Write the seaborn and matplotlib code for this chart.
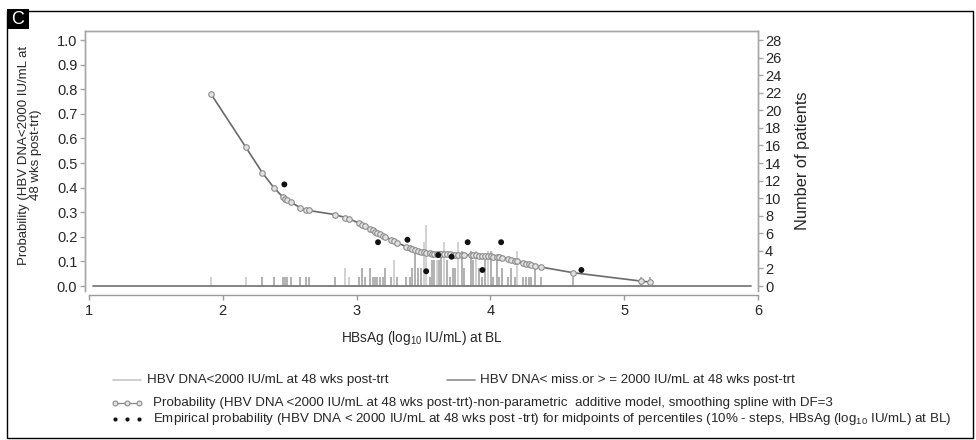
import numpy as np
import pandas as pd
import matplotlib
matplotlib.use("Agg")
import matplotlib.pyplot as plt
from matplotlib.lines import Line2D
from matplotlib.patches import Rectangle
import seaborn as sns

# ---------------- data ----------------
# patient HBsAg values (log10 IU/mL) and number of patients at each value
needle_x = [1.910, 2.172, 2.296, 2.381, 2.448, 2.465, 2.480, 2.513, 2.578, 2.625,
            2.642, 2.842, 2.916, 2.940, 3.015, 3.037, 3.060, 3.102, 3.119, 3.137,
            3.154, 3.172, 3.194, 3.214, 3.259, 3.282, 3.302, 3.371, 3.396, 3.413,
            3.433, 3.460, 3.480, 3.500, 3.520, 3.545, 3.565, 3.582, 3.599, 3.614,
            3.634, 3.654, 3.674, 3.699, 3.719, 3.737, 3.761, 3.784, 3.799, 3.853,
            3.873, 3.893, 3.916, 3.938, 3.963, 3.985, 4.002, 4.022, 4.047, 4.067,
            4.090, 4.134, 4.157, 4.181, 4.201, 4.246, 4.266, 4.286, 4.306, 4.331,
            4.378, 4.619, 5.125, 5.192]
needle_n = [1, 1, 1, 1, 1, 1, 1, 1, 1, 1,
            1, 1, 2, 1, 1, 2, 1, 2, 1, 1,
            1, 1, 1, 2, 1, 3, 1, 1, 1, 2,
            4, 2, 2, 5, 7, 1, 3, 3, 3, 3,
            4, 5, 3, 1, 2, 2, 5, 4, 2, 4,
            3, 4, 2, 1, 3, 4, 4, 1, 3, 1,
            2, 1, 2, 1, 4, 1, 1, 1, 1, 2,
            1, 1, 1, 1]
# 'lo' = HBV DNA<2000 IU/mL, 'hi' = HBV DNA miss. or >=2000 IU/mL
needle_grp = ['lo', 'lo', 'hi', 'hi', 'hi', 'hi', 'hi', 'hi', 'hi', 'hi',
              'hi', 'hi', 'lo', 'lo', 'hi', 'hi', 'hi', 'hi', 'hi', 'hi',
              'hi', 'hi', 'hi', 'hi', 'hi', 'lo', 'hi', 'hi', 'hi', 'hi',
              'hi', 'hi', 'hi', 'lo', 'lo', 'hi', 'hi', 'hi', 'lo', 'hi',
              'hi', 'lo', 'hi', 'hi', 'hi', 'hi', 'lo', 'hi', 'hi', 'hi',
              'hi', 'lo', 'hi', 'hi', 'hi', 'lo', 'hi', 'hi', 'hi', 'hi',
              'hi', 'hi', 'hi', 'hi', 'lo', 'hi', 'hi', 'hi', 'hi', 'hi',
              'hi', 'hi', 'hi', 'hi']

# smoothed probability at each patient value
curve_y = [0.782, 0.564, 0.460, 0.400, 0.362, 0.355, 0.350, 0.340, 0.318, 0.310,
           0.307, 0.290, 0.278, 0.274, 0.256, 0.249, 0.242, 0.230, 0.226, 0.221,
           0.216, 0.211, 0.205, 0.199, 0.188, 0.181, 0.176, 0.160, 0.154, 0.150,
           0.146, 0.142, 0.139, 0.137, 0.135, 0.133, 0.132, 0.131, 0.131, 0.130,
           0.130, 0.129, 0.129, 0.129, 0.128, 0.128, 0.128, 0.128, 0.127, 0.126,
           0.125, 0.125, 0.124, 0.123, 0.122, 0.121, 0.120, 0.119, 0.118, 0.116,
           0.114, 0.110, 0.107, 0.103, 0.100, 0.094, 0.091, 0.088, 0.085, 0.082,
           0.077, 0.054, 0.020, 0.016]

# empirical probabilities at percentile midpoints
emp_x = [2.46, 3.16, 3.38, 3.52, 3.61, 3.71, 3.83, 3.94, 4.08, 4.68]
emp_y = [0.413, 0.178, 0.188, 0.060, 0.126, 0.119, 0.178, 0.065, 0.178, 0.065]

x_ticks = [1, 2, 3, 4, 5, 6]
y_ticks = [0.0, 0.1, 0.2, 0.3, 0.4, 0.5, 0.6, 0.7, 0.8, 0.9, 1.0]
n_ticks = list(range(0, 29, 2))

# ---------------- style ----------------
sns.set_style("white")
plt.rcParams['font.family'] = ['Liberation Sans', 'DejaVu Sans']
plt.rcParams['mathtext.fontset'] = 'custom'
plt.rcParams['mathtext.rm'] = 'Liberation Sans'
plt.rcParams['mathtext.it'] = 'Liberation Sans'

W, H = 976, 440
fig = plt.figure(figsize=(W / 100, H / 100), dpi=100)


def fx(px):
    return px / W


def fy(py):
    return 1 - py / H


L, R, T, B = 85, 758, 31, 291
ax = fig.add_axes([fx(L), fy(B), (R - L) / W, (B - T) / H])
ax2 = ax.twinx()

ylo, yhi = -0.0203, 1.0366
ax.set_xlim(0.970, 5.993)
ax.set_ylim(ylo, yhi)
ax2.set_ylim(ylo * 28, yhi * 28)

frame_col = '#a6a6a6'
LO_COL, HI_COL = '#c6c6c6', '#9c9c9c'

# needles (number of patients)
df_n = pd.DataFrame({'x': needle_x, 'n': needle_n, 'grp': needle_grp})
for g, col in [('lo', LO_COL), ('hi', HI_COL)]:
    sub = df_n[df_n.grp == g]
    ax2.vlines(sub.x, 0, sub.n, colors=col, lw=1.1)

# baseline
ax.axhline(0, xmin=0.012, xmax=0.99, color='#7a7a7a', lw=1.3, zorder=1)

# smoothing curve
df_c = pd.DataFrame({'x': needle_x, 'p': curve_y})
sns.lineplot(data=df_c, x='x', y='p', ax=ax, color='#6a6a6a', lw=1.2,
             marker='o', markersize=4, markerfacecolor='#e2e2e2',
             markeredgecolor='#8c8c8c', markeredgewidth=0.8,
             estimator=None, sort=True, zorder=3)

# empirical points
df_e = pd.DataFrame({'x': emp_x, 'p': emp_y})
sns.scatterplot(data=df_e, x='x', y='p', ax=ax, color='#111111', s=18,
                edgecolor='none', zorder=4)

ax.set_zorder(ax2.get_zorder() + 1)
ax.patch.set_visible(False)

# spines
for a in (ax, ax2):
    for s in a.spines.values():
        s.set_color(frame_col)
        s.set_linewidth(1.0)
ax.spines['bottom'].set_position(('outward', 2.6))
ax.spines['bottom'].set_bounds(1, 6)
ax.spines['bottom'].set_color('#9a9a9a')
ax2.spines['bottom'].set_visible(False)

ax.set_xticks(x_ticks)
ax.set_xticklabels([str(v) for v in x_ticks])
ax.set_yticks(y_ticks)
ax.set_yticklabels([f"{v:.1f}" for v in y_ticks])
ax2.set_yticks(n_ticks)
ax2.set_yticklabels([str(v) for v in n_ticks])

ax.tick_params(axis='x', direction='out', length=3.5, width=1, color='#9a9a9a',
               labelsize=10.5, pad=3, bottom=True)
ax.tick_params(axis='y', direction='out', length=3.5, width=1, color=frame_col,
               labelsize=10.5, pad=2, left=True)
ax2.tick_params(axis='y', direction='out', length=3.5, width=1, color=frame_col,
                labelsize=10.5, pad=1.5, right=True)

ax.set_xlabel("HBsAg (log$_{10}$ IU/mL) at BL", fontsize=9.8)
ax.xaxis.set_label_coords(0.5, (B - 329) / (B - T))
ax.set_ylabel("Probability (HBV DNA<2000 IU/mL at\n48 wks post-trt)", fontsize=9.5,
              linespacing=1.0)
ax.yaxis.set_label_coords((42 - L) / (R - L), (B - 155) / (B - T))
ax2.set_ylabel("Number of patients", fontsize=11.8)
ax2.yaxis.set_label_coords((795 - L) / (R - L), 0.5)

# ---------------- legend ----------------
fs_leg = 9.6
r1, r2, r3 = 380, 403, 419
fig.add_artist(Line2D([fx(113), fx(141)], [fy(r1), fy(r1)], color=LO_COL, lw=1.2))
fig.text(fx(147), fy(r1), "HBV DNA<2000 IU/mL at 48 wks post-trt",
         fontsize=fs_leg, va='center', ha='left')
fig.add_artist(Line2D([fx(447), fx(475)], [fy(r1), fy(r1)], color='#8c8c8c', lw=1.2))
fig.text(fx(480), fy(r1), "HBV DNA< miss.or > = 2000 IU/mL at 48 wks post-trt",
         fontsize=fs_leg, va='center', ha='left')

fig.add_artist(Line2D([fx(113), fx(141)], [fy(r2), fy(r2)], color='#8c8c8c', lw=1.0))
fig.add_artist(Line2D([fx(115), fx(127), fx(139)], [fy(r2)] * 3, ls='none',
                      marker='o', markersize=3.5, markerfacecolor='#e2e2e2',
                      markeredgecolor='#8c8c8c', markeredgewidth=0.8))
fig.text(fx(153), fy(r2),
         "Probability (HBV DNA <2000 IU/mL at 48 wks post-trt)-non-parametric  additive model, smoothing spline with DF=3",
         fontsize=fs_leg, va='center', ha='left')
fig.add_artist(Line2D([fx(115), fx(127), fx(139)], [fy(r3)] * 3, ls='none',
                      marker='o', markersize=3, markerfacecolor='#111111',
                      markeredgecolor='none'))
fig.text(fx(153), fy(r3),
         "Empirical probability (HBV DNA < 2000 IU/mL at 48 wks post -trt) for midpoints of percentiles (10% - steps, HBsAg (log$_{10}$ IU/mL) at BL)",
         fontsize=fs_leg, va='center', ha='left')

# ---------------- panel frame & label ----------------
fig.add_artist(Rectangle((fx(7), fy(438)), (973 - 7) / W, (438 - 11) / H,
                         transform=fig.transFigure, fill=False, ec='black', lw=1.0))
fig.add_artist(Rectangle((fx(7), fy(29)), 22 / W, 20 / H,
                         transform=fig.transFigure, fc='black', ec='black', lw=0))
fig.text(fx(18), fy(19), "C", color='white', fontsize=13, ha='center', va='center')

fig.savefig("out.png", dpi=100, facecolor='white')
